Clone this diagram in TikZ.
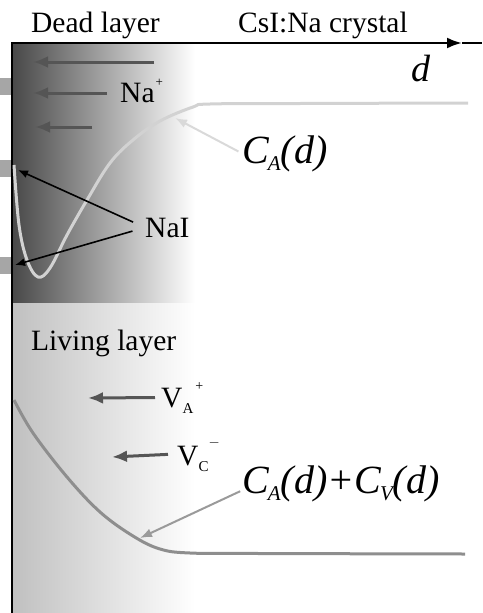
\documentclass[tikz,border=0pt]{standalone}
\usepackage{fontspec}
\setmainfont{Liberation Serif}
\usetikzlibrary{arrows.meta}
\usepackage{xcolor}
\definecolor{deadgray}{HTML}{484848}
\definecolor{livegray}{HTML}{C0C0C0}
\definecolor{tabgray}{HTML}{A6A6A6}
\definecolor{iongray}{HTML}{555555}
\definecolor{curvelight}{HTML}{D2D2D2}
\definecolor{curvedark}{HTML}{8E8E8E}
\definecolor{pointdark}{HTML}{9A9A9A}

\begin{document}
\begin{tikzpicture}[
              x=1pt,
              y=-1pt,
              tag/.style={inner sep=0pt, anchor=base west, font=\fontsize{29.5}{31}\selectfont},
              bigtag/.style={inner sep=0pt, anchor=base west, font=\fontsize{40}{44}\selectfont\itshape},
              axis/.style={line width=2.5pt, black},
              ion/.style={-{Latex[length=15pt,width=12pt]}, line width=3pt, color=iongray},
              pointer/.style={-{Latex[length=10pt,width=8pt]}, line width=1.6pt, color=black},
              curveA/.style={line width=3pt, color=curvelight},
              curveAV/.style={line width=3pt, color=curvedark}
            ]
            \useasboundingbox (0,0) rectangle (482,613);

            \shade[left color=deadgray, right color=white] (12,43) rectangle (195,303);
            \shade[left color=livegray, right color=white] (12,303) rectangle (195,613);
            \fill[tabgray] (0,78) rectangle (12,95);
            \fill[tabgray] (0,160) rectangle (12,177);
            \fill[tabgray] (0,257) rectangle (12,274);

            \coordinate (origin) at (12,43);
            \coordinate (bottom) at (12,613);
            \coordinate (dtip) at (462,43);
            \coordinate (dend) at (482,43);
            \draw[axis, -{Latex[length=15pt,width=11pt]}] (bottom) -- (origin) -- (dtip);
            \draw[axis] (dtip) -- (dend);

            \node[tag] (dead) at (31,32) {Dead layer};
            \node[tag] (crystal) at (238,32) {CsI:Na crystal};
            \node[inner sep=0pt, anchor=base west, font=\fontsize{38}{40}\selectfont\itshape] (dlabel) at (411,81) {d};
            \node[tag] (na) at (120,102) {Na\kern1pt\raisebox{16pt}{\fontsize{13}{13}\selectfont +}};
            \node[tag] (nai) at (145,237) {NaI};
            \node[tag] (living) at (31,350) {Living layer};
            \node[tag] (va) at (161,407) {V\raisebox{-6pt}{\fontsize{15}{15}\selectfont A}\kern2pt\raisebox{17pt}{\fontsize{14}{14}\selectfont +}};
            \node[tag] (vc) at (177,465) {V\raisebox{-6pt}{\fontsize{15}{15}\selectfont C}\kern0pt\raisebox{19pt}{\fontsize{14}{14}\selectfont $-$}};
            \node[bigtag] (ca) at (242,163) {C\kern-1pt\raisebox{-7pt}{\fontsize{21}{21}\selectfont A}(d)};
            \node[bigtag] (cav) at (242,493) {C\kern-1pt\raisebox{-7pt}{\fontsize{21}{21}\selectfont A}(d)+C\kern-1pt\raisebox{-7pt}{\fontsize{21}{21}\selectfont V}(d)};

            \coordinate (ionA) at (154,62);
            \coordinate (ionAend) at (33,62);
            \coordinate (ionB) at (107,93);
            \coordinate (ionBend) at (33,93);
            \coordinate (ionC) at (92,127);
            \coordinate (ionCend) at (35,127);
            \coordinate (vaend) at (88,398);
            \coordinate (vcend) at (112,457);
            \coordinate (naitop) at (18,170);
            \coordinate (naibottom) at (15,265);
            \coordinate (catip) at (175,118);
            \coordinate (cavtip) at (140,538);

            \draw[curveA] plot[smooth, tension=0.6] coordinates {(14,165) (19,225) (27,260) (38,277) (50,268) (67,235) (87,200) (110,163) (133,140) (160,121) (193,107) (210,104) (300,103.5) (468,103)};
            \draw[curveAV] plot[smooth, tension=0.6] coordinates {(14,400) (33,433) (67,477) (100,512) (133,536) (160,549) (190,553) (260,553.5) (465,554)};

            \draw[ion] (ionA) -- (ionAend);
            \draw[ion] (ionB) -- (ionBend);
            \draw[ion] (ionC) -- (ionCend);
            \draw[ion] ([xshift=-6pt]va.west) -- (vaend);
            \draw[ion] ([xshift=-9pt]vc.west) -- (vcend);

            \draw[pointer, shorten <=13pt] (nai.west) -- (naitop);
            \draw[pointer, shorten <=13pt] (nai.west) -- (naibottom);
            \draw[-{Latex[length=12pt,width=9pt]}, line width=2pt, color=curvelight!85!white, shorten <=4pt] (ca.west) -- (catip);
            \draw[-{Latex[length=12pt,width=9pt]}, line width=2pt, color=pointdark, shorten <=2pt] ([yshift=-7pt]cav.west) -- (cavtip);
            \end{tikzpicture}
\end{document}
